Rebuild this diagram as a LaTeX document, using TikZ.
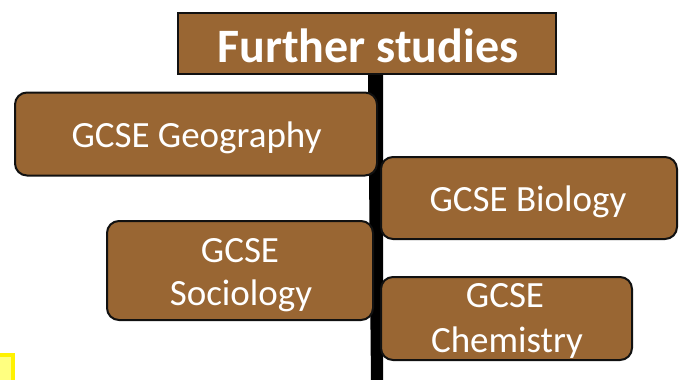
\documentclass[tikz,border=0pt]{standalone}
\usepackage{fontspec}
\setmainfont{Carlito}
\definecolor{signbrown}{HTML}{996633}
\definecolor{signedge}{HTML}{111111}
\definecolor{notefill}{HTML}{FFFF80}
\begin{document}
\begin{tikzpicture}[x=1pt,y=-1pt,
  board/.style={draw=signedge, line width=2pt, fill=signbrown, rounded corners=12pt,
    inner sep=0pt, outer sep=0pt},
  titleboard/.style={draw=signedge, line width=2pt, fill=signbrown,
    inner sep=0pt, outer sep=0pt},
  lbl/.style={text=white, anchor=base, inner sep=0pt, font=\fontsize{37}{45}\selectfont},
  ttl/.style={text=white, anchor=base, inner sep=0pt, font=\fontsize{48}{58}\selectfont\bfseries}]
\useasboundingbox (0,0) rectangle (699,380);
\begin{scope}
\clip (0,0) rectangle (699,380);
% yellow note corner
\draw[draw=yellow, line width=4pt, fill=notefill] (-10,355) rectangle (13,400);
% pole
\fill[black] (368,70) -- (383,70) -- (383,382) -- (371,382) -- cycle;
\end{scope}
% boards
\node[titleboard, minimum width=378pt, minimum height=61pt] (title) at (367,43.5) {};
\node[board, minimum width=362pt, minimum height=83pt] (geo) at (196,134) {};
\node[board, minimum width=296pt, minimum height=82pt] (bio) at (529,198) {};
\node[board, minimum width=266pt, minimum height=99pt] (soc) at (240,270.5) {};
\node[board, minimum width=251pt, minimum height=83pt] (chem) at (506.5,318.5) {};
% texts
\node[ttl] (titletext) at (368,62) {Further studies};
\node[lbl] (geotext) at (196.5,147) {GCSE Geography};
\node[lbl] (biotext) at (528,211) {GCSE Biology};
\node[lbl] (soctexta) at (240,262) {GCSE};
\node[lbl] (soctextb) at (241,305) {Sociology};
\node[lbl] (chemtexta) at (505,307) {GCSE};
\node[lbl] (chemtextb) at (507,352) {Chemistry};
\end{tikzpicture}
\end{document}
